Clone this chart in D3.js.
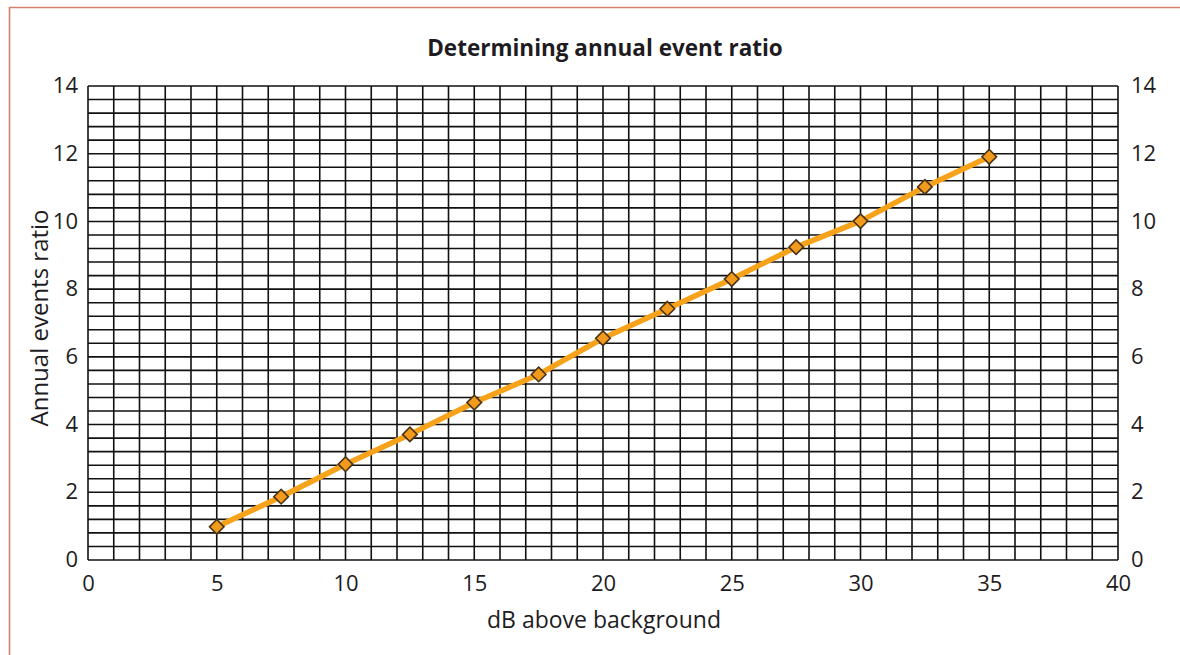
<!DOCTYPE html>
<html>
<head>
<meta charset="utf-8">
<script src="https://cdn.jsdelivr.net/npm/d3@7/dist/d3.min.js"></script>
<style>
  html, body { margin: 0; padding: 0; background: #fff; }
  svg { display: block; }
  text { font-family: "Open Sans", "Noto Sans", sans-serif; fill: #1e1c22; }
</style>
</head>
<body>
<svg id="chart" width="1180" height="655"></svg>
<script>
// ---- data ----
const dbAbove = [5, 7.5, 10, 12.5, 15, 17.5, 20, 22.5, 25, 27.5, 30, 32.5, 35];
const eventRatio = [0.98, 1.87, 2.83, 3.71, 4.65, 5.48, 6.55, 7.42, 8.3, 9.24, 10.01, 11.02, 11.91];
const xTickLabels = [0, 5, 10, 15, 20, 25, 30, 35, 40];
const yTickLabels = [0, 2, 4, 6, 8, 10, 12, 14];
const xGridStep = 1;
const yGridStep = 0.4;
const titleText = "Determining annual event ratio";
const xLabelText = "dB above background";
const yLabelText = "Annual events ratio";

// ---- layout ----
const svg = d3.select("#chart");
const plotLeft = 88, plotRight = 1118, plotTop = 86, plotBottom = 560;
const x = d3.scaleLinear().domain([0, 40]).range([plotLeft, plotRight]);
const y = d3.scaleLinear().domain([0, 14]).range([plotBottom, plotTop]);

// frame border (salmon)
svg.append("path")
  .attr("d", "M9.5,655 L9.5,7.5 L1180,7.5")
  .attr("fill", "none")
  .attr("stroke", "#d4806e")
  .attr("stroke-width", 1.6);

// grid
const xGrid = d3.range(0, 40 + 1e-9, xGridStep);
const yGrid = d3.range(0, 35 + 1).map(i => +(i * yGridStep).toFixed(2));
const g = svg.append("g");
g.selectAll("line.v").data(xGrid).join("line")
  .attr("class", "v")
  .attr("x1", d => x(d)).attr("x2", d => x(d))
  .attr("y1", y(14)).attr("y2", y(0))
  .attr("stroke", "#111").attr("stroke-width", 1.6);
g.selectAll("line.h").data(yGrid).join("line")
  .attr("class", "h")
  .attr("x1", x(0)).attr("x2", x(40))
  .attr("y1", d => y(d)).attr("y2", d => y(d))
  .attr("stroke", "#111").attr("stroke-width", 1.6);

// axes (labels only)
const axX = svg.append("g").attr("transform", `translate(0,${plotBottom + 12})`)
  .call(d3.axisBottom(x).tickValues(xTickLabels).tickSize(0).tickFormat(d3.format("d")));
const axL = svg.append("g").attr("transform", `translate(${plotLeft - 7},0)`)
  .call(d3.axisLeft(y).tickValues(yTickLabels).tickSize(0).tickFormat(d3.format("d")));
const axR = svg.append("g").attr("transform", `translate(${plotRight + 10},0)`)
  .call(d3.axisRight(y).tickValues(yTickLabels).tickSize(0).tickFormat(d3.format("d")));
[axX, axL, axR].forEach(a => {
  a.select(".domain").remove();
  a.selectAll("text")
    .style("font-family", '"Open Sans", "Noto Sans", sans-serif')
    .style("font-size", "22px")
    .attr("fill", "#1e1c22");
});
axL.selectAll("text").attr("dy", "0.3em");
axR.selectAll("text").attr("dy", "0.3em");

// line
const line = d3.line().x((d, i) => x(dbAbove[i])).y(d => y(d));
svg.append("path")
  .datum(eventRatio)
  .attr("d", line)
  .attr("fill", "none")
  .attr("stroke", "#f7a21b")
  .attr("stroke-width", 5.5)
  .attr("stroke-linejoin", "round");

// markers (diamonds)
svg.selectAll("path.mk").data(eventRatio).join("path")
  .attr("class", "mk")
  .attr("d", d3.symbol().type(d3.symbolDiamond2).size(135))
  .attr("transform", (d, i) => `translate(${x(dbAbove[i])},${y(d)})`)
  .attr("fill", "#f29a1c")
  .attr("stroke", "#4a3312")
  .attr("stroke-width", 1.6);

// title and axis titles
svg.append("text")
  .attr("x", 605).attr("y", 56)
  .attr("text-anchor", "middle")
  .style("font-size", "22.5px").style("font-weight", "bold")
  .text(titleText);
svg.append("text")
  .attr("x", 604).attr("y", 628)
  .attr("text-anchor", "middle")
  .style("font-size", "23px")
  .text(xLabelText);
svg.append("text")
  .attr("transform", "translate(48,318) rotate(-90)")
  .attr("text-anchor", "middle")
  .style("font-size", "24px")
  .text(yLabelText);
</script>
</body>
</html>
